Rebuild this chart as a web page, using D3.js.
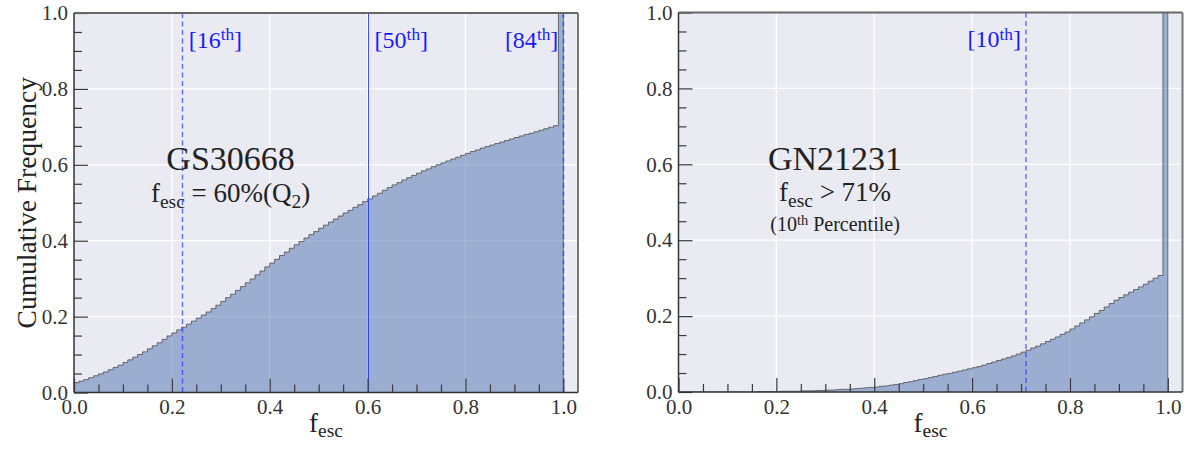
<!DOCTYPE html>
<html>
<head>
<meta charset="utf-8">
<script src="https://cdn.jsdelivr.net/npm/d3@7"></script>
<style>
  body { margin: 0; background: #fff; }
  svg { display: block; }
  svg text, svg tspan { font-family: "Liberation Serif", "DejaVu Serif", serif; white-space: pre; }
</style>
</head>
<body>
<div id="chart"></div>
<script>
'use strict';

// bin edges of the cumulative histograms (100 bins on [0, 1])
const binEdges = d3.range(101).map(i => i / 100);

// cumulative frequency per bin
const gsCumFreq = [
  0.026, 0.030, 0.034, 0.039, 0.044, 0.049, 0.054, 0.060, 0.066, 0.072,
  0.079, 0.086, 0.093, 0.100, 0.107, 0.115, 0.123, 0.131, 0.140, 0.149,
  0.157, 0.165, 0.172, 0.180, 0.188, 0.196, 0.204, 0.212, 0.221, 0.230,
  0.240, 0.250, 0.259, 0.269, 0.279, 0.289, 0.299, 0.310, 0.320, 0.331,
  0.341, 0.351, 0.361, 0.370, 0.380, 0.389, 0.398, 0.407, 0.416, 0.424,
  0.433, 0.441, 0.449, 0.457, 0.465, 0.473, 0.480, 0.488, 0.495, 0.503,
  0.510, 0.518, 0.525, 0.533, 0.540, 0.547, 0.553, 0.560, 0.566, 0.572,
  0.578, 0.584, 0.589, 0.595, 0.600, 0.605, 0.610, 0.615, 0.620, 0.625,
  0.630, 0.635, 0.639, 0.644, 0.648, 0.652, 0.656, 0.660, 0.664, 0.668,
  0.672, 0.676, 0.680, 0.683, 0.687, 0.691, 0.695, 0.699, 0.703, 1.000
];

const gnCumFreq = [
  0.000, 0.000, 0.000, 0.000, 0.000, 0.000, 0.000, 0.000, 0.000, 0.000,
  0.000, 0.000, 0.000, 0.000, 0.000, 0.000, 0.001, 0.001, 0.001, 0.001,
  0.001, 0.002, 0.002, 0.002, 0.002, 0.003, 0.003, 0.003, 0.004, 0.004,
  0.005, 0.005, 0.006, 0.007, 0.007, 0.008, 0.009, 0.010, 0.011, 0.012,
  0.013, 0.015, 0.016, 0.018, 0.020, 0.022, 0.025, 0.027, 0.030, 0.033,
  0.035, 0.038, 0.041, 0.044, 0.047, 0.049, 0.052, 0.055, 0.058, 0.061,
  0.064, 0.067, 0.071, 0.075, 0.079, 0.083, 0.087, 0.091, 0.095, 0.100,
  0.105, 0.110, 0.116, 0.121, 0.127, 0.133, 0.139, 0.145, 0.152, 0.158,
  0.166, 0.174, 0.182, 0.190, 0.198, 0.207, 0.215, 0.224, 0.233, 0.242,
  0.249, 0.256, 0.263, 0.270, 0.277, 0.284, 0.292, 0.300, 0.307, 1.000
];

const majorTicks = [0, 0.2, 0.4, 0.6, 0.8, 1.0];
const minorTicks = [0.05, 0.1, 0.15, 0.25, 0.3, 0.35, 0.45, 0.5, 0.55, 0.65, 0.7, 0.75, 0.85, 0.9, 0.95];

const gsPctNames = ['16', '50', '84'];
const gsPctValues = [0.22, 0.60, 1.00];
const gnPctNames = ['10'];
const gnPctValues = [0.71];

const gsNote = ['GS30668', 'f_{esc} = 60%(Q_{2})'];
const gnNote = ['GN21231', 'f_{esc} > 71%', '(10^{th} Percentile)'];

const yLabel = 'Cumulative Frequency';
const xLabel = 'f_{esc}';

// ---- layout
const W = 1186, H = 453;
const plotW = 504, plotH = 379.5;
const serif = '"Liberation Serif", "DejaVu Serif", serif';
const panels = [
  {left: 74, top: 13, cum: gsCumFreq, names: gsPctNames, values: gsPctValues, note: gsNote, ylab: true},
  {left: 678.5, top: 12.5, cum: gnCumFreq, names: gnPctNames, values: gnPctValues, note: gnNote, ylab: false}
];

const svg = d3.select('#chart').append('svg')
    .attr('width', W)
    .attr('height', H)
    .attr('font-family', serif);

// write "a_{sub}" / "a^{sup}" strings as tspans
function richText(sel, str, size) {
  sel.attr('font-family', serif).style('font-family', serif);
  const parts = str.split(/(_\{[^}]*\}|\^\{[^}]*\})/).filter(s => s.length);
  let shift = 0;
  parts.forEach(p => {
    const kind = p.startsWith('_{') ? 'sub' : p.startsWith('^{') ? 'sup' : null;
    const txt = kind ? p.slice(2, -1) : p;
    const target = kind === 'sub' ? size * 0.22 : kind === 'sup' ? -size * 0.32 : 0;
    sel.append('tspan')
        .attr('dy', target - shift)
        .style('font-size', (kind ? size * 0.72 : size) + 'px')
        .text(txt);
    shift = target;
  });
}

panels.forEach((p, pi) => {
  const g = svg.append('g').attr('transform', 'translate(' + p.left + ',' + p.top + ')');

  const x = d3.scaleLinear().domain([0, 1.03]).range([0, plotW]);
  const y = d3.scaleLinear().domain([0, 1]).range([plotH, 0]);

  const clipId = 'clip' + pi;
  g.append('clipPath').attr('id', clipId)
    .append('rect').attr('width', plotW).attr('height', plotH);

  // background + grid
  g.append('rect').attr('width', plotW).attr('height', plotH).attr('fill', '#EAEAF2');

  g.selectAll('.vgrid').data(majorTicks.slice(1)).enter().append('line')
      .attr('x1', d => x(d)).attr('x2', d => x(d))
      .attr('y1', 0).attr('y2', plotH)
      .attr('stroke', '#fff').attr('stroke-width', 1.3);
  g.selectAll('.hgrid').data(majorTicks.slice(1, -1)).enter().append('line')
      .attr('y1', d => y(d)).attr('y2', d => y(d))
      .attr('x1', 0).attr('x2', plotW)
      .attr('stroke', '#fff').attr('stroke-width', 1.3);

  // cumulative histogram
  const pts = p.cum.map((v, i) => [binEdges[i], v]);
  pts.push([binEdges[100], p.cum[99]]);

  const area = d3.area()
      .curve(d3.curveStepAfter)
      .x(d => x(d[0]))
      .y0(y(0))
      .y1(d => y(d[1]));

  g.append('path')
      .datum(pts)
      .attr('clip-path', 'url(#' + clipId + ')')
      .attr('d', area)
      .attr('fill', '#4C72B0')
      .attr('fill-opacity', 0.5);

  const line = d3.line()
      .curve(d3.curveStepAfter)
      .x(d => x(d[0]))
      .y(d => y(d[1]));

  g.append('path')
      .datum([[0, 0]].concat(pts, [[binEdges[100], 0]]))
      .attr('clip-path', 'url(#' + clipId + ')')
      .attr('d', line)
      .attr('fill', 'none')
      .attr('stroke', '#555')
      .attr('stroke-opacity', 0.85)
      .attr('stroke-width', 1);

  // percentile markers
  p.values.forEach((v, i) => {
    const median = p.names[i] === '50';
    g.append('line')
        .attr('x1', Math.round(x(v)) + 0.5).attr('x2', Math.round(x(v)) + 0.5)
        .attr('y1', 0).attr('y2', plotH)
        .attr('stroke', '#2233ff')
        .attr('stroke-opacity', median ? 0.85 : 0.7)
        .attr('stroke-width', median ? 1 : 1.4)
        .attr('stroke-dasharray', median ? null : '5,3.5');

    const right = v > 0.65;
    const t = g.append('text')
        .attr('x', x(v) + (right ? -5 : 7))
        .attr('y', y(0.908))
        .attr('text-anchor', right ? 'end' : 'start')
        .attr('fill', '#1a1aff');
    richText(t, '[' + p.names[i] + '^{th}]', 24);
  });

  // annotation block
  const noteSizes = [34, 27, 20];
  const noteY = [0.585, 0.503, 0.424];
  p.note.forEach((s, i) => {
    const t = g.append('text')
        .attr('x', x(0.32))
        .attr('y', y(noteY[i]))
        .attr('text-anchor', 'middle')
        .attr('fill', '#222');
    richText(t, s, noteSizes[i]);
  });

  // ticks (inward)
  const fmt = d3.format('.1f');
  const xAxis = g.append('g')
      .attr('transform', 'translate(0,' + plotH + ')')
      .call(d3.axisBottom(x).tickValues(majorTicks).tickSizeInner(-14).tickSizeOuter(0).tickPadding(7).tickFormat(fmt));
  const xMinor = g.append('g')
      .attr('transform', 'translate(0,' + plotH + ')')
      .call(d3.axisBottom(x).tickValues(minorTicks).tickSizeInner(-8).tickSizeOuter(0).tickFormat(''));
  const yAxis = g.append('g')
      .call(d3.axisLeft(y).tickValues(majorTicks).tickSizeInner(-14).tickSizeOuter(0).tickPadding(6).tickFormat(fmt));
  const yMinor = g.append('g')
      .call(d3.axisLeft(y).tickValues(minorTicks).tickSizeInner(-8).tickSizeOuter(0).tickFormat(''));

  [xAxis, xMinor, yAxis, yMinor].forEach(a => {
    a.attr('font-family', serif).attr('font-size', 21);
    a.select('.domain').remove();
    a.selectAll('.tick line').attr('stroke', '#3a3a3a').attr('stroke-width', 1.2);
    a.selectAll('.tick text')
        .attr('fill', '#333')
        .style('font-family', serif)
        .style('font-size', '21px');
  });

  // spines
  g.append('line').attr('x1', 0).attr('x2', plotW).attr('y1', 0).attr('y2', 0)
      .attr('stroke', '#666').attr('stroke-width', 2);
  g.append('line').attr('x1', plotW).attr('x2', plotW).attr('y1', 0).attr('y2', plotH)
      .attr('stroke', '#777').attr('stroke-width', 2);
  g.append('line').attr('x1', 0).attr('x2', 0).attr('y1', 0).attr('y2', plotH)
      .attr('stroke', '#333').attr('stroke-width', 1.5);
  g.append('line').attr('x1', 0).attr('x2', plotW).attr('y1', plotH).attr('y2', plotH)
      .attr('stroke', '#333').attr('stroke-width', 1.5);

  // axis labels
  const xl = g.append('text')
      .attr('x', plotW / 2)
      .attr('y', 431.5 - p.top)
      .attr('text-anchor', 'middle')
      .attr('fill', '#222');
  richText(xl, xLabel, 27);

  if (p.ylab) {
    g.append('text')
        .attr('transform', 'translate(' + (36 - p.left) + ',' + (plotH / 2) + ') rotate(-90)')
        .attr('text-anchor', 'middle')
        .attr('fill', '#222')
        .style('font-family', serif)
        .style('font-size', '27.5px')
        .text(yLabel);
  }
});
</script>
</body>
</html>
